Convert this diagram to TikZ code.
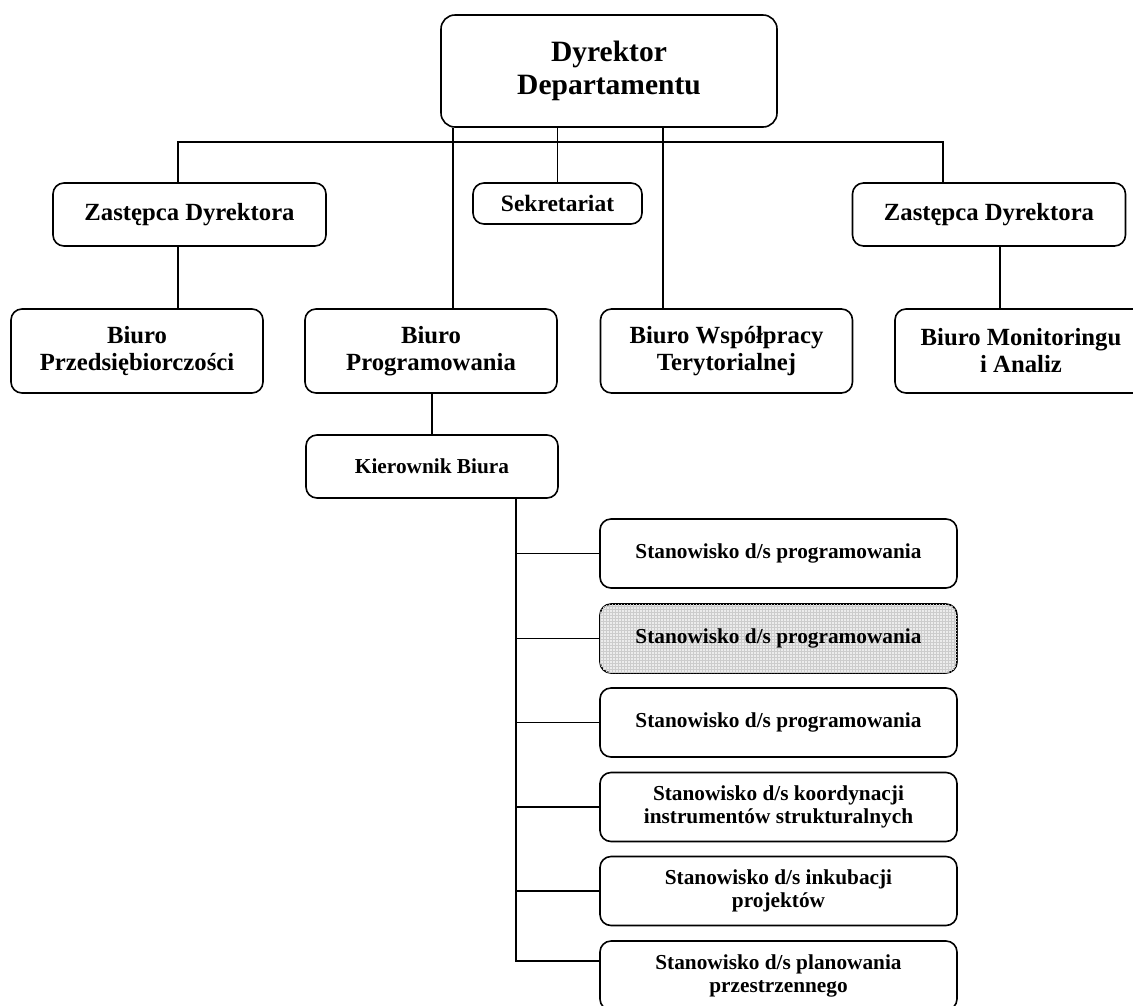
\documentclass[tikz,border=0pt]{standalone}
\usepackage{fontspec}
\setmainfont{Liberation Serif}
\usetikzlibrary{patterns}

\tikzset{
  unit/.style={draw, line width=1.6pt, rounded corners=11pt, align=center, inner sep=0pt},
  head/.style={unit, minimum width=336pt, minimum height=112pt, rounded corners=14pt,
    font=\bfseries\fontsize{29.5}{33}\selectfont},
  deputy/.style={unit, minimum width=273pt, minimum height=63pt,
    font=\bfseries\fontsize{24.7}{27}\selectfont},
  office/.style={unit, minimum width=252pt, minimum height=84pt,
    font=\bfseries\fontsize{24.7}{27}\selectfont},
  post/.style={unit, minimum width=357pt, minimum height=69pt,
    font=\bfseries\fontsize{21.3}{23}\selectfont},
  shaded/.style={fill=gray!15, postaction={pattern=grid, pattern color=gray!40}},
  link/.style={line width=1.6pt}
}

\begin{document}
\begin{tikzpicture}[x=1pt, y=-1pt]
    \useasboundingbox (0,0) rectangle (1133,1005);
    \clip (0,0) rectangle (1133,1005);

    % Dyrekcja
    \node[head] (dyr) at (609,71) {Dyrektor\\Departamentu};
    \node[deputy] (zas1) at (189.5,214.5) {Zastępca Dyrektora};
    \node[unit, minimum width=169pt, minimum height=41pt,
      font=\bfseries\fontsize{23.5}{25}\selectfont] (sek) at (557.5,203.5) {Sekretariat};
    \node[deputy] (zas2) at (989,214.5) {Zastępca Dyrektora};

    % Biura
    \node[office] (bprz) at (137,351) {Biuro\\Przedsiębiorczości};
    \node[office] (bprog) at (431,351) {Biuro\\Programowania};
    \node[office] (bwsp) at (726.5,351) {Biuro Współpracy\\Terytorialnej};
    \node[office] (bmon) at (1021,351) {Biuro Monitoringu\\i Analiz};
    \node[unit, minimum width=252pt, minimum height=63pt,
      font=\bfseries\fontsize{21.3}{23}\selectfont] (kier) at (432,466.5) {Kierownik Biura};

    % Stanowiska
    \node[post] (st1) at (778.5,553.5) {Stanowisko d/s programowania};
    \node[post, shaded] (st2) at (778.5,638.5) {Stanowisko d/s programowania};
    \node[post] (st3) at (778.5,722.5) {Stanowisko d/s programowania};
    \node[post] (st4) at (778.5,807) {Stanowisko d/s koordynacji\\instrumentów strukturalnych};
    \node[post] (st5) at (778.5,891) {Stanowisko d/s inkubacji\\projektów};
    \node[post] (st6) at (778.5,975.5) {Stanowisko d/s planowania\\przestrzennego};

    % Połączenia
    \coordinate (busL) at (178,142);
    \coordinate (busR) at (943,142);
    \coordinate (tapProg) at (453,0);
    \coordinate (tapWsp) at (663,0);
    \coordinate (tapMon) at (1000,0);
    \coordinate (spine) at (516,961);
    \draw[link] (zas1.north -| busL) -- (busL) -- (busR) -- (zas2.north -| busR);
    \draw[link] (dyr.south -| tapProg) -- (bprog.north -| tapProg);
    \draw[link] (dyr.south -| sek.north) -- (sek.north);
    \draw[link] (dyr.south -| tapWsp) -- (bwsp.north -| tapWsp);
    \draw[link] (zas1.south -| busL) -- (bprz.north -| busL);
    \draw[link] (zas2.south -| tapMon) -- (bmon.north -| tapMon);
    \draw[link] (bprog.south -| kier.north) -- (kier.north);
    \draw[link] (kier.south -| spine) -- (spine) -- (st6.west |- spine);
    \foreach \s in {1,...,5}
        \draw[link] (st\s.west -| spine) -- (st\s.west);
\end{tikzpicture}
\end{document}
